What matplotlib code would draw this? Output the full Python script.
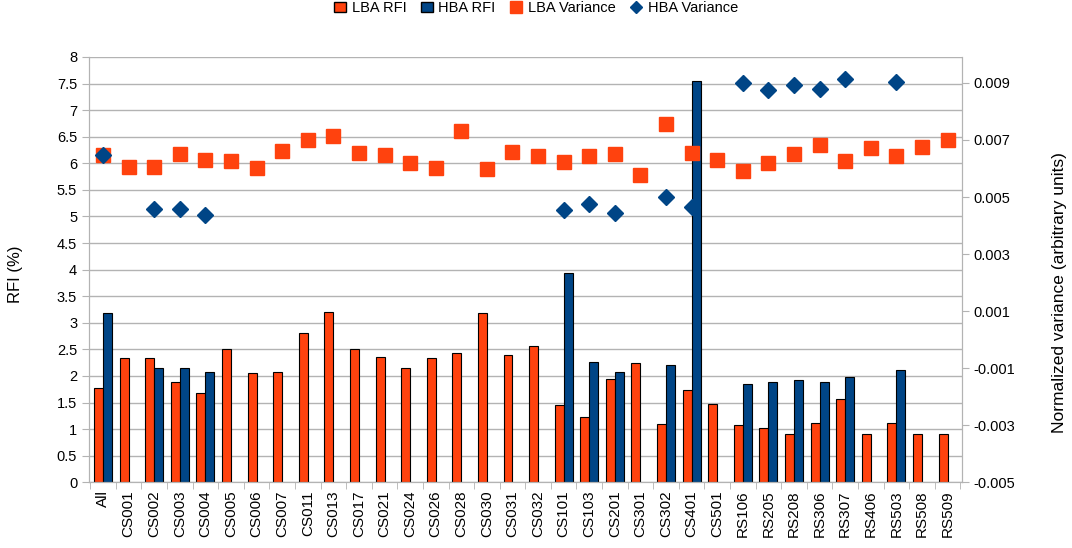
import numpy as np
from matplotlib import pyplot as plt
from matplotlib.patches import Patch
from matplotlib.lines import Line2D

plt.rcParams['font.family'] = ['Liberation Sans', 'DejaVu Sans']

stations = ["All", "CS001", "CS002", "CS003", "CS004", "CS005", "CS006", "CS007",
            "CS011", "CS013", "CS017", "CS021", "CS024", "CS026", "CS028", "CS030",
            "CS031", "CS032", "CS101", "CS103", "CS201", "CS301", "CS302", "CS401",
            "CS501", "RS106", "RS205", "RS208", "RS306", "RS307", "RS406", "RS503",
            "RS508", "RS509"]

nan = np.nan
lba_rfi = [1.78, 2.34, 2.34, 1.88, 1.67, 2.50, 2.05, 2.08, 2.81, 3.21, 2.50, 2.36,
           2.15, 2.34, 2.43, 3.19, 2.39, 2.56, 1.46, 1.22, 1.95, 2.25, 1.09, 1.73,
           1.48, 1.07, 1.02, 0.90, 1.12, 1.57, 0.90, 1.12, 0.90, 0.90]
hba_rfi = [3.19, nan, 2.15, 2.15, 2.08, nan, nan, nan, nan, nan, nan, nan,
           nan, nan, nan, nan, nan, nan, 3.93, 2.27, 2.08, nan, 2.21, 7.55,
           nan, 1.84, 1.88, 1.93, 1.89, 1.98, nan, 2.11, nan, nan]
lba_var = [0.00647, 0.00606, 0.00606, 0.00652, 0.00629, 0.00625, 0.00601, 0.00660,
           0.00699, 0.00714, 0.00655, 0.00646, 0.00619, 0.00603, 0.00733, 0.00597,
           0.00657, 0.00644, 0.00624, 0.00645, 0.00652, 0.00576, 0.00756, 0.00653,
           0.00630, 0.00591, 0.00618, 0.00652, 0.00682, 0.00626, 0.00671, 0.00643,
           0.00677, 0.00700]
hba_var = [0.00647, nan, 0.00458, 0.00458, 0.00437, nan, nan, nan, nan, nan, nan, nan,
           nan, nan, nan, nan, nan, nan, 0.00454, 0.00474, 0.00443, nan, 0.00501, 0.00464,
           nan, 0.00899, 0.00875, 0.00894, 0.00879, 0.00913, nan, 0.00905, nan, nan]

orange = "#ff420e"
blue = "#004586"
grid_c = "#b3b3b3"

x = np.arange(len(stations))
w = 0.35

fig = plt.figure(figsize=(10.72, 5.48), dpi=100)
ax = fig.add_axes([0.083, 0.120, 0.814, 0.776])
ax.bar(x - w / 2, lba_rfi, w, color=orange, edgecolor="black", linewidth=0.8, zorder=2)
ax.bar(x + w / 2, hba_rfi, w, color=blue, edgecolor="black", linewidth=0.8, zorder=2)
ax.set_ylim(0, 8)
ax.set_xlim(-0.55, len(stations) - 0.45)
ax.set_yticks(np.arange(0, 8.01, 0.5))
ax.set_yticklabels([("%g" % v) for v in np.arange(0, 8.01, 0.5)])
ax.grid(axis="y", color=grid_c, linewidth=1, zorder=0)
ax.set_axisbelow(True)
ax.set_xticks(x)
ax.set_xticklabels(stations, rotation=90, fontsize=11)
ax.set_xticks(np.arange(-0.5, len(stations), 1), minor=True)
ax.tick_params(axis="x", which="major", length=0, pad=6)
ax.tick_params(axis="x", which="minor", length=5, color=grid_c)
ax.tick_params(axis="y", length=5, color=grid_c, labelsize=10.5)
ax.spines["top"].set_visible(False)
for s in ["left", "right", "bottom"]:
    ax.spines[s].set_color(grid_c)
ax.set_ylabel("RFI (%)", fontsize=12)
ax.yaxis.set_label_coords(-0.0756, 0.49)

ax2 = ax.twinx()
ax2.plot(x, lba_var, "s", color=orange, ms=10.5, zorder=3)
ax2.plot(x, hba_var, "D", color=blue, ms=8.5, zorder=4)
ax2.set_ylim(-0.005, 0.00991)
ax2.set_yticks(np.arange(-0.005, 0.0091, 0.002))
ax2.set_yticklabels(["%.3f" % v for v in np.arange(-0.005, 0.0091, 0.002)])
ax2.tick_params(axis="y", length=5, color=grid_c, labelsize=10.5)
ax2.spines["top"].set_visible(False)
for s in ["left", "right", "bottom"]:
    ax2.spines[s].set_color(grid_c)
ax2.set_ylabel("Normalized variance (arbitrary units)", fontsize=12.5)
ax2.yaxis.set_label_coords(1.104, 0.445)

handles = [Patch(facecolor=orange, edgecolor="black", label="LBA RFI"),
           Patch(facecolor=blue, edgecolor="black", label="HBA RFI"),
           Line2D([], [], marker="s", color=orange, ls="none", ms=8, label="LBA Variance"),
           Line2D([], [], marker="D", color=blue, ls="none", ms=6, label="HBA Variance")]
fig.legend(handles=handles, loc="upper center", bbox_to_anchor=(0.5, 1.022), ncol=4,
           frameon=False, fontsize=10.5, handlelength=0.8, handletextpad=0.4,
           columnspacing=1.0)

fig.savefig("out.png", dpi=100)
